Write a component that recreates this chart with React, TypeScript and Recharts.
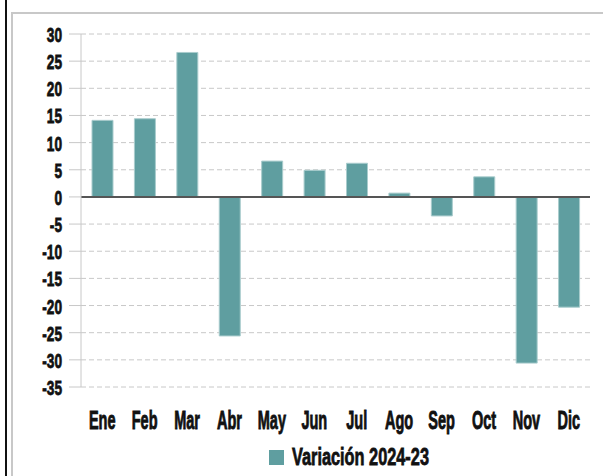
import React from "react";
import { BarChart, Bar, XAxis, YAxis, CartesianGrid, ReferenceLine, Legend } from "recharts";

const months = ["Ene", "Feb", "Mar", "Abr", "May", "Jun", "Jul", "Ago", "Sep", "Oct", "Nov", "Dic"];
const variacion = [14.1, 14.4, 26.6, -25.6, 6.6, 4.9, 6.2, 0.7, -3.5, 3.7, -30.6, -20.3];
const yTicks = [30, 25, 20, 15, 10, 5, 0, -5, -10, -15, -20, -25, -30, -35];
const seriesName = "Variación 2024-23";

const data = months.map((m, i) => ({ month: m, value: variacion[i] }));

const FONT = "'Liberation Sans', Arial, sans-serif";
const BAR = "#5f9ea0";

const XTick = (props: any) => {
  const { x, y, payload } = props;
  return (
    <text
      transform={`translate(${x},${y + 34}) scale(0.58,1)`}
      textAnchor="middle"
      fontFamily={FONT}
      fontWeight="bold"
      fontSize={25}
      fill="#111"
      stroke="#111"
      strokeWidth={0.9}
    >
      {payload.value}
    </text>
  );
};

const YTick = (props: any) => {
  const { x, y, payload } = props;
  return (
    <text
      transform={`translate(${x},${y + 8}) scale(0.65,1)`}
      textAnchor="end"
      fontFamily={FONT}
      fontWeight="bold"
      fontSize={21}
      fill="#111"
      stroke="#111"
      strokeWidth={0.8}
    >
      {payload.value}
    </text>
  );
};

const LegendContent = () => (
  <div style={{ height: 49, position: "relative" }}>
    <svg width={603} height={49} style={{ position: "absolute", left: 0, top: 0 }}>
      <rect x={269} y={23} width={15} height={15} fill={BAR} />
      <text
        transform="translate(292,38) scale(0.68,1)"
        fontFamily={FONT}
        fontWeight="bold"
        fontSize={24}
        fill="#111"
        stroke="#111"
        strokeWidth={0.8}
      >
        {seriesName}
      </text>
    </svg>
  </div>
);

export default function App() {
  return (
    <div style={{ position: "absolute", left: 0, top: 0, width: 603, height: 476, background: "#fff", overflow: "hidden" }}>
      <div style={{ position: "absolute", left: 5, top: 0, width: 2, height: 476, background: "#111" }} />
      <div style={{ position: "absolute", left: 11, top: 12, width: 600, height: 480, borderLeft: "2px solid #c8c8c8", borderTop: "2px solid #c8c8c8", boxSizing: "border-box" }} />
      <div style={{ position: "absolute", left: 0, top: 0 }}>
        <BarChart
          width={603}
          height={476}
          data={data}
          margin={{ top: 34, right: 13, left: 0, bottom: 0 }}
          barSize={21}
        >
          <CartesianGrid vertical={false} stroke="#c8c8c8" strokeDasharray="5 3" />
          <XAxis dataKey="month" axisLine={false} tickLine={false} height={40} tick={<XTick />} interval={0} />
          <YAxis
            width={81}
            domain={[-35, 30]}
            ticks={yTicks}
            interval={0}
            tickSize={12}
            tickMargin={7}
            axisLine={{ stroke: "#c8c8c8" }}
            tickLine={{ stroke: "#c8c8c8" }}
            tick={<YTick />}
          />
          <Legend verticalAlign="bottom" content={<LegendContent />} />
          <Bar dataKey="value" name={seriesName} fill={BAR} stroke="#a9cccd" strokeWidth={1} isAnimationActive={false} />
          <ReferenceLine y={0} stroke="#555" strokeWidth={2} />
        </BarChart>
      </div>
    </div>
  );
}
